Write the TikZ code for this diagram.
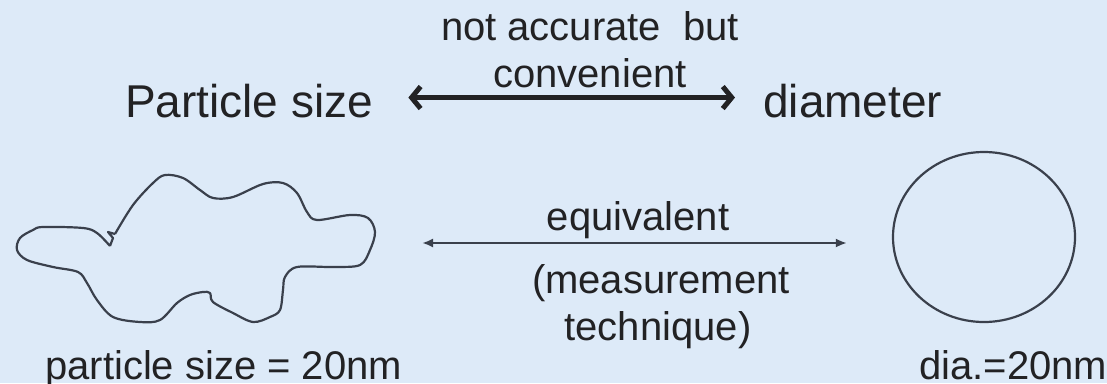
\documentclass[tikz,border=0pt]{standalone}
\usepackage{fontspec}
\setmainfont{Liberation Sans}
\usetikzlibrary{arrows.meta,shapes.geometric}
\definecolor{bgblue}{RGB}{221,234,248}
\definecolor{ink}{RGB}{34,34,36}
\definecolor{lineink}{RGB}{58,64,76}
\tikzset{
  big/.style={inner sep=0pt,text=ink,font=\fontsize{46}{55}\selectfont},
  mid/.style={inner sep=0pt,text=ink,font=\fontsize{40}{48}\selectfont},
  bigarrow/.style={draw=ink,line width=5pt,arrows={Straight Barb[length=9pt,width=22pt]-Straight Barb[length=9pt,width=22pt]}},
  thinarrow/.style={draw=lineink,line width=2.2pt,arrows={Latex[length=11pt,width=9pt]-Latex[length=11pt,width=9pt]}},
  outline/.style={draw=lineink,line width=2.2pt},
}
\begin{document}
\begin{tikzpicture}[x=1pt,y=-1pt]
\fill[bgblue] (0,0) rectangle (1107,383);
\useasboundingbox (0,0) rectangle (1107,383);

% top row
\node[big,anchor=base west] (ps) at (125,117) {Particle size};
\node[big,anchor=base west] (dia) at (763,117) {diameter};
\node[mid,anchor=base] (nab) at (590,40) {not accurate\ \ but};
\node[mid,anchor=base] (conv) at (590,87) {convenient};
\draw[bigarrow] ([xshift=35pt,yshift=3pt]ps.east) -- ([xshift=-28pt,yshift=3pt]dia.west);

% irregular particle
\draw[outline,line join=round] (110,246) -- (113,238) -- (108,232) -- (115,234)
  plot[smooth,tension=0.55] coordinates {(115,234) (133,205) (153,183) (165,175) (183,178) (200,190) (213,198)
    (233,197) (263,184) (283,183) (297,193) (307,212) (317,220) (350,215) (368,218) (375,232)
    (370,250) (360,265) (333,267) (297,267) (285,277) (283,290) (280,310) (270,317) (253,322)
    (233,313) (213,302) (210,293) (203,292) (190,295) (177,303) (160,320) (140,322) (113,317)
    (97,300) (87,283) (78,272) (53,267) (27,260) (17,250) (20,238) (33,230) (43,227) (83,228) (97,233) (110,246)};
\coordinate (blobE) at (375,243);

% circle
\node[outline,ellipse,inner sep=0pt,minimum width=182pt,minimum height=170pt] (circ) at (984,237) {};

% middle arrow and labels
\draw[thinarrow] ([xshift=47pt]blobE) -- ([xshift=-45pt,yshift=-6pt]circ.west);
\node[mid,anchor=base] (eq) at (638,230) {equivalent};
\node[mid,anchor=base] (meas) at (661,293) {(measurement};
\node[mid,anchor=base] (tech) at (658,340) {technique)};

% bottom labels
\node[mid,anchor=base west] (pslab) at (45,379) {particle size = 20nm};
\node[mid,anchor=base west] (dialab) at (919,379) {dia.=20nm};
\end{tikzpicture}
\end{document}
